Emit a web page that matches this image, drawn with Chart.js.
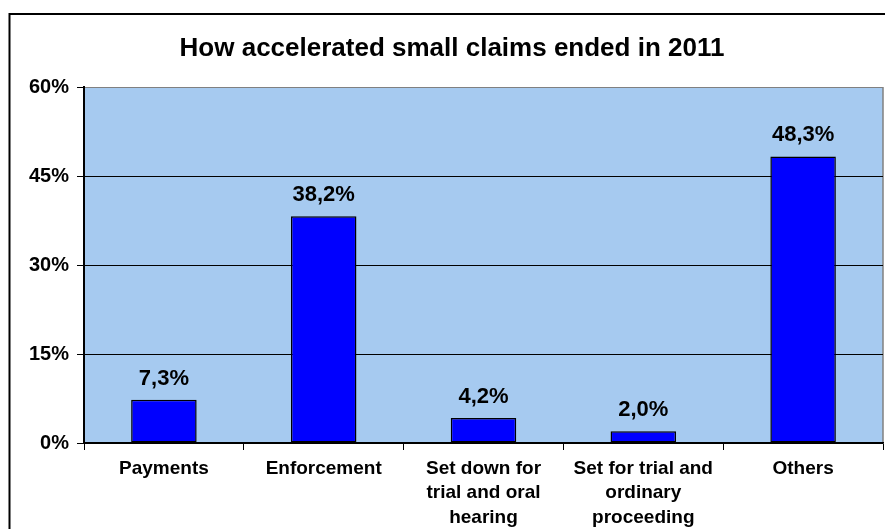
<!DOCTYPE html>
<html>
<head>
<meta charset="utf-8">
<script src="https://cdn.jsdelivr.net/npm/chart.js@4"></script>
<style>
  html, body { margin:0; padding:0; background:#fff; }
  #wrap { width:885px; height:529px; }
</style>
</head>
<body>
<div id="wrap"><canvas id="chart" width="885" height="529"></canvas></div>
<script>
const categories = ['Payments', 'Enforcement', ['Set down for','trial and oral','hearing'], ['Set for trial and','ordinary','proceeding'], 'Others'];
const shares = [7.3, 38.2, 4.2, 2.0, 48.3];
const yTicks = [0, 15, 30, 45, 60];
const chartTitle = 'How accelerated small claims ended in 2011';

const FONT = '"Liberation Sans", Arial, sans-serif';

// plot background + outer frame + title
const frame = {
  id:'frame',
  beforeDraw(chart){
    const {ctx, chartArea:a} = chart;
    ctx.save();
    ctx.fillStyle = '#fff';
    ctx.fillRect(0,0,chart.width,chart.height);
    ctx.fillStyle = '#A6CAF0';
    ctx.fillRect(a.left, a.top, a.right-a.left, a.bottom-a.top);
    ctx.strokeStyle = '#808080';
    ctx.lineWidth = 1.5;
    ctx.beginPath();
    ctx.moveTo(a.right, a.top); ctx.lineTo(a.right, a.bottom);
    ctx.stroke();
    ctx.strokeStyle = '#000';
    ctx.lineWidth = 2;
    ctx.beginPath();
    ctx.moveTo(9.5, chart.height); ctx.lineTo(9.5, 14); ctx.lineTo(chart.width, 14);
    ctx.stroke();
    ctx.fillStyle = '#000';
    ctx.font = 'bold 26px ' + FONT;
    ctx.textAlign = 'center';
    ctx.textBaseline = 'alphabetic';
    ctx.fillText(chartTitle, 452, 56);
    ctx.restore();
  }
};

// value labels above bars
const barLabels = {
  id:'barLabels',
  afterDatasetsDraw(chart){
    const {ctx} = chart;
    const meta = chart.getDatasetMeta(0);
    ctx.save();
    ctx.fillStyle = '#000';
    ctx.font = 'bold 22px ' + FONT;
    ctx.textAlign = 'center';
    ctx.textBaseline = 'alphabetic';
    meta.data.forEach((bar, i) => {
      ctx.fillText(shares[i].toFixed(1).replace('.', ',') + '%', bar.x, bar.y - 15);
    });
    ctx.restore();
  }
};

new Chart(document.getElementById('chart').getContext('2d'), {
  type:'bar',
  data:{
    labels:categories,
    datasets:[{
      data:shares,
      backgroundColor:'#0000FF',
      borderColor:'#000',
      borderWidth:1.5,
      borderSkipped:false,
      barPercentage:0.41,
      categoryPercentage:1
    }]
  },
  options:{
    responsive:false,
    animation:false,
    layout:{padding:{top:87, right:2, left:0, bottom:0}},
    plugins:{legend:{display:false}, title:{display:false}, tooltip:{enabled:false}},
    scales:{
      x:{
        grid:{offset:true, drawOnChartArea:false, color:'#000', tickLength:7, lineWidth:1},
        border:{color:'#000', width:1.5},
        ticks:{color:'#000', font:{family:FONT, size:19, weight:'bold', lineHeight:1.3}, padding:6, maxRotation:0, autoSkip:false},
        afterFit(s){ s.height = 86; }
      },
      y:{
        min:0, max:60,
        afterBuildTicks(s){ s.ticks = yTicks.map(v => ({value:v})); },
        grid:{
          color:ctx => ctx.tick && ctx.tick.value === 60 ? '#808080' : '#000',
          tickColor:'#000', tickLength:7, lineWidth:1
        },
        border:{color:'#000', width:2},
        ticks:{color:'#000', font:{family:FONT, size:20, weight:'bold'}, padding:8, callback:v => v + '%'},
        afterFit(s){ s.width = 84; }
      }
    }
  },
  plugins:[frame, barLabels]
});
</script>
</body>
</html>
